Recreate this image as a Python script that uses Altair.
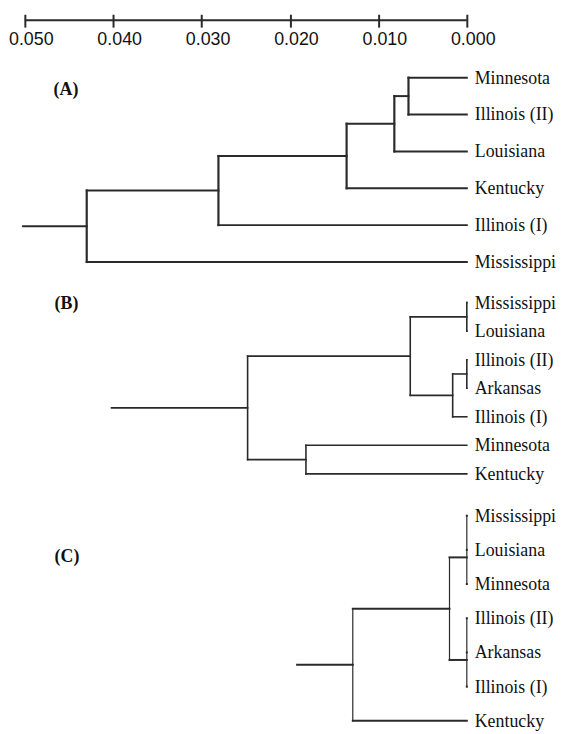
import altair as alt
import pandas as pd

# ---------------- data ----------------
TICKS = [0.050, 0.040, 0.030, 0.020, 0.010, 0.000]

PANEL_LABELS = ["(A)", "(B)", "(C)"]

A_LEAVES = ["Minnesota", "Illinois (II)", "Louisiana", "Kentucky", "Illinois (I)", "Mississippi"]
A_NODE_NAMES = ["a1", "a2", "a3", "a4", "a5"]
A_NODE_DIST = [0.0066, 0.0082, 0.0136, 0.0281, 0.0430]
A_NODE_KIDS = [["Minnesota", "Illinois (II)"], ["a1", "Louisiana"], ["a2", "Kentucky"],
               ["a3", "Illinois (I)"], ["a4", "Mississippi"]]
A_NODE_ROW = [None, None, None, None, None]
A_STUB = 0.0502

B_LEAVES = ["Mississippi", "Louisiana", "Illinois (II)", "Arkansas", "Illinois (I)", "Minnesota", "Kentucky"]
B_NODE_NAMES = ["b1", "b2", "b3", "b4", "b5", "b6"]
B_NODE_DIST = [0.0, 0.0, 0.0016, 0.0064, 0.0182, 0.0248]
B_NODE_KIDS = [["Mississippi", "Louisiana"], ["Illinois (II)", "Arkansas"], ["b2", "Illinois (I)"],
               ["b1", "b3"], ["Minnesota", "Kentucky"], ["b4", "b5"]]
B_NODE_ROW = [None, None, None, None, None, None]
B_STUB = 0.0402

C_LEAVES = ["Mississippi", "Louisiana", "Minnesota", "Illinois (II)", "Arkansas", "Illinois (I)", "Kentucky"]
C_NODE_NAMES = ["c1", "c2", "c3", "c4"]
C_NODE_DIST = [0.0, 0.0, 0.00196, 0.0129]
C_NODE_KIDS = [["Mississippi", "Louisiana", "Minnesota"], ["Illinois (II)", "Arkansas", "Illinois (I)"],
               ["c1", "c2"], ["c3", "Kentucky"]]
C_NODE_ROW = [1.22, 4.22, None, None]
C_STUB = 0.0192

# ---------------- layout / style ----------------
W = 446          # plot width (0.050 .. 0.000)
H = 708          # plot height, 1 y-unit = 1 px
LINE = "#2a2a2a"
SERIF = "Liberation Serif"
SANS = "Liberation Sans"
# per panel: (top of first leaf, leaf spacing, label y, label x, horiz width, vert width)
LAYOUT = [
    (58, 37.2, 70, 29, 2.0, 2.2),
    (285, 28.8, 286, 30, 1.6, 1.6),
    (500, 34.5, 542, 30, 2.0, 1.2),
]


def build(pid, leaves, names, dists, kids, rows, stub, first, step, hw, vw):
    pos = lambda r: first + r * step
    dist = {l: 0.0 for l in leaves}
    row = {l: float(i) for i, l in enumerate(leaves)}
    hs, vs = [], []
    for n, d, ch, r in zip(names, dists, kids, rows):
        cr = [row[c] for c in ch]
        row[n] = r if r is not None else (min(cr) + max(cr)) / 2
        dist[n] = d
        vs.append({"x": d, "y": pos(min(cr)), "y2": pos(max(cr)), "w": vw})
        for c in ch:
            hs.append({"x": d, "x2": dist[c], "y": pos(row[c]), "w": hw})
    root = names[-1]
    hs.append({"x": stub, "x2": dist[root], "y": pos(row[root]), "w": hw})
    lf = [{"name": l, "x": 0.0, "y": pos(row[l])} for l in leaves]
    return hs, vs, lf


H_ROWS, V_ROWS, L_ROWS = [], [], []
for i, spec in enumerate([
    (A_LEAVES, A_NODE_NAMES, A_NODE_DIST, A_NODE_KIDS, A_NODE_ROW, A_STUB),
    (B_LEAVES, B_NODE_NAMES, B_NODE_DIST, B_NODE_KIDS, B_NODE_ROW, B_STUB),
    (C_LEAVES, C_NODE_NAMES, C_NODE_DIST, C_NODE_KIDS, C_NODE_ROW, C_STUB),
]):
    first, step, _, _, hw, vw = LAYOUT[i]
    hs, vs, lf = build(i, *spec, first, step, hw, vw)
    H_ROWS += hs
    V_ROWS += vs
    L_ROWS += lf

hdf = pd.DataFrame(H_ROWS)
vdf = pd.DataFrame(V_ROWS)
ldf = pd.DataFrame(L_ROWS)
pdf = pd.DataFrame({"label": PANEL_LABELS,
                    "px": [l[3] for l in LAYOUT], "py": [l[2] for l in LAYOUT]})
axis_df = pd.DataFrame({"x": [max(TICKS)], "x2": [min(TICKS)], "y": [0.0]})

x_scale = alt.Scale(domain=[0, 0.05], reverse=True, nice=False, zero=False)
y_scale = alt.Scale(domain=[0, H], reverse=True, nice=False, zero=False)

X_AXIS = alt.Axis(orient="bottom", offset=-(H + 6), values=TICKS, format=".3f",
                  title=None, grid=False, domain=False,
                  tickSize=13, tickWidth=2, tickColor=LINE,
                  labelPadding=3.5, labelOffset=6, labelFontSize=18, labelFont=SANS,
                  labelColor="#111", labelFlush=False, labelOverlap=False)

axis_line = alt.Chart(axis_df).mark_rule(color=LINE, strokeWidth=2).encode(
    x=alt.X("x:Q", scale=x_scale, axis=X_AXIS), x2="x2",
    y=alt.Y("y:Q", scale=y_scale, axis=None))

horiz = alt.Chart(hdf).mark_rule(color=LINE, strokeCap="square").encode(
    x=alt.X("x:Q", scale=x_scale), x2="x2",
    y=alt.Y("y:Q", scale=y_scale),
    strokeWidth=alt.StrokeWidth("w:Q", scale=None))

vert = alt.Chart(vdf).mark_rule(color=LINE, strokeCap="square").encode(
    x=alt.X("x:Q", scale=x_scale),
    y=alt.Y("y:Q", scale=y_scale), y2="y2",
    strokeWidth=alt.StrokeWidth("w:Q", scale=None))

leaf_text = alt.Chart(ldf).mark_text(align="left", baseline="middle", dx=8, dy=1,
                                     font=SERIF, fontSize=18, color="#111").encode(
    x=alt.X("x:Q", scale=x_scale), y=alt.Y("y:Q", scale=y_scale), text="name:N")

panel_text = alt.Chart(pdf).mark_text(align="left", baseline="middle", font=SERIF,
                                      fontSize=18, fontWeight="bold", color="#111").encode(
    x=alt.X("px:Q", scale=None), y=alt.Y("py:Q", scale=None), text="label:N")

chart = alt.layer(axis_line, horiz, vert, leaf_text, panel_text).properties(
    width=W, height=H,
    padding={"left": 0, "top": 2, "right": 0, "bottom": 0}
).configure_view(strokeWidth=0)

chart.save("out.html", embed_options={"renderer": "svg", "actions": False})
